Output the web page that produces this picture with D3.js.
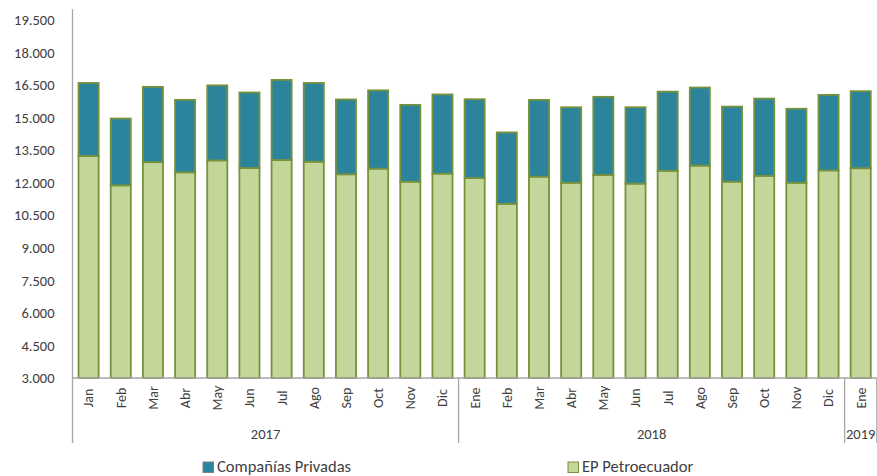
<!DOCTYPE html>
<html>
<head>
<meta charset="utf-8">
<script src="https://cdn.jsdelivr.net/npm/d3@7"></script>
<style>
  html, body { margin: 0; padding: 0; background: #fff; }
  svg { display: block; }
  text { font-family: Carlito, Calibri, Lato, sans-serif; fill: #404040; }
</style>
</head>
<body>
<svg id="chart" width="877" height="476"></svg>
<script>
const months = ["Jan","Feb","Mar","Abr","May","Jun","Jul","Ago","Sep","Oct","Nov","Dic",
                "Ene","Feb","Mar","Abr","May","Jun","Jul","Ago","Sep","Oct","Nov","Dic","Ene"];
const yearLabels = ["2017","2018","2019"];
const yearCounts = [12, 12, 1];
const epPetroecuador = [13230,11880,12950,12480,13030,12680,13050,12970,12390,12650,12050,12420,
                        12220,11030,12280,12000,12360,11960,12550,12790,12050,12320,12000,12570,12670];
const companiasPrivadas = [3370,3080,3470,3340,3460,3480,3690,3630,3450,3610,3540,3650,
                           3630,3290,3540,3480,3600,3520,3650,3600,3460,3560,3410,3480,3550];
const yTicks = [3000,4500,6000,7500,9000,10500,12000,13500,15000,16500,18000,19500];
const seriesNames = ["Compañías Privadas", "EP Petroecuador"];

const colPriv = "#2B849C", colEP = "#C4D79B", colStroke = "#76923C", axisCol = "#A6A6A6";

const svg = d3.select("#chart");
const mLeft = 72.5, mRight = 876.8, mTop = 9.2, mBottom = 378;
const x = d3.scaleBand().domain(d3.range(months.length)).range([mLeft, mRight])
  .paddingInner(0.375).paddingOuter(0.1875);
const y = d3.scaleLinear().domain([3000, 20000]).range([mBottom, mTop]);

const fmt = d3.formatLocale({decimal: ",", thousands: ".", grouping: [3], currency: ["", ""]}).format(",.0f");

const rows = months.map((m, i) => ({i, ep: epPetroecuador[i], priv: companiasPrivadas[i]}));
const stack = d3.stack().keys(["ep", "priv"])(rows);
const fills = {ep: colEP, priv: colPriv};

svg.append("g").selectAll("g").data(stack).join("g")
  .attr("fill", d => fills[d.key])
  .selectAll("rect").data(d => d).join("rect")
  .attr("x", d => x(d.data.i))
  .attr("width", x.bandwidth())
  .attr("y", d => y(d[1]))
  .attr("height", d => y(Math.max(d[0], 3000)) - y(d[1]))
  .attr("stroke", colStroke).attr("stroke-width", 1.8);

// Y axis
const yAxis = svg.append("g").attr("transform", `translate(${mLeft},0)`)
  .call(d3.axisLeft(y).tickValues(yTicks).tickFormat(fmt).tickSize(0).tickPadding(18));
yAxis.select(".domain").remove();
yAxis.selectAll("text").style("font-size", "14.5px").attr("fill", "#404040");
svg.append("line").attr("x1", mLeft).attr("x2", mLeft).attr("y1", mTop).attr("y2", 443)
  .attr("stroke", axisCol).attr("stroke-width", 1.3);

// X axis
const xAxis = svg.append("g").attr("transform", `translate(0,${mBottom})`)
  .call(d3.axisBottom(x).tickFormat(i => months[i]).tickSize(0));
xAxis.select(".domain").attr("d", `M${mLeft},0H${mRight}`).attr("stroke", axisCol).attr("stroke-width", 1.3);
xAxis.selectAll("text")
  .style("font-size", "14px").attr("fill", "#404040")
  .attr("transform", "rotate(-90)")
  .attr("text-anchor", "middle")
  .attr("x", -20).attr("y", 0).attr("dy", "0.35em");

// Group dividers and year labels
let start = 0;
const bounds = [0];
yearCounts.forEach(c => { start += c; bounds.push(start); });
const edge = k => k === 0 ? mLeft : (k === months.length ? mRight : x(k) - x.step() * x.paddingInner() / 2);
bounds.slice(1).forEach(k => {
  svg.append("line").attr("x1", edge(k)).attr("x2", edge(k)).attr("y1", mBottom).attr("y2", 443)
    .attr("stroke", axisCol).attr("stroke-width", 1.3);
});
yearLabels.forEach((lab, j) => {
  const cx = (edge(bounds[j]) + edge(bounds[j + 1])) / 2;
  svg.append("text").attr("x", cx).attr("y", 434).attr("dy", "0.35em")
    .attr("text-anchor", "middle").style("font-size", "14.5px").text(lab);
});

// Legend
const legend = [
  {name: seriesNames[0], fill: colPriv, stroke: "#808080", x: 203},
  {name: seriesNames[1], fill: colEP, stroke: colStroke, x: 568}
];
legend.forEach(l => {
  svg.append("rect").attr("x", l.x).attr("y", 462).attr("width", 10.5).attr("height", 10.5)
    .attr("fill", l.fill).attr("stroke", l.stroke).attr("stroke-width", 1);
  svg.append("text").attr("x", l.x + 14).attr("y", 466.5).attr("dy", "0.35em")
    .style("font-size", "16.5px").text(l.name);
});
</script>
</body>
</html>
